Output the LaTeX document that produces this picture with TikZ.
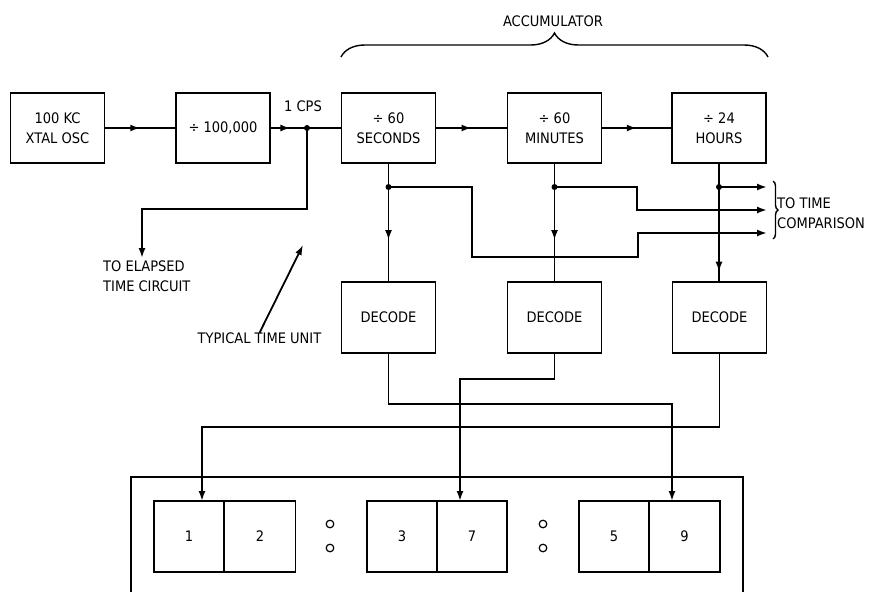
\documentclass[tikz,border=0pt]{standalone}
\usepackage{fontspec}
\setmainfont{DejaVu Sans Condensed}
\usetikzlibrary{arrows.meta,decorations.markings,decorations.pathreplacing,calc}
\begin{document}
\begin{tikzpicture}[x=1pt,y=-1pt,
  font=\fontsize{14.5}{20}\selectfont,
  wire/.style={line width=1.8pt},
  tip/.style={-{Latex[length=10pt,width=7pt]}},
  box/.style={draw,line width=1.8pt,minimum width=94pt,minimum height=70pt,align=center,inner sep=0pt},
  digit/.style={draw,line width=1.8pt,minimum width=71pt,minimum height=71pt,inner sep=0pt},
  marr/.style={postaction={decorate,decoration={markings,mark=at position #1 with {\arrow{Latex[length=10pt,width=7pt]}}}}},
  jdot/.style={circle,fill,inner sep=0pt,minimum size=6pt},
  lbl/.style={inner sep=0pt,align=left}
]
\useasboundingbox (0,0) rectangle (876,592);
% top row
\node[box] (osc) at (57.5,128) {100 KC\\XTAL OSC};
\node[box] (div) at (223,128) {÷ 100,000};
\node[box] (sec) at (388.5,128) {÷ 60\\SECONDS};
\node[box] (min) at (554.5,128) {÷ 60\\MINUTES};
\node[box] (hrs) at (719,128) {÷ 24\\HOURS};
% decoders
\node[box,minimum height=71pt] (secD) at (388.5,317.5) {DECODE};
\node[box,minimum height=71pt] (minD) at (554.5,317.5) {DECODE};
\node[box,minimum height=71pt] (hrsD) at (719.5,317.5) {DECODE};
% displays
\node[digit,minimum width=70pt] (d1a) at (189,536.5) {1};
\node[digit] (d1b) at (260,536.5) {2};
\node[digit,minimum width=70pt] (d2a) at (402,536.5) {3};
\node[digit,minimum width=70pt] (d2b) at (472,536.5) {7};
\node[digit,minimum width=70pt] (d3a) at (614,536.5) {5};
\node[digit] (d3b) at (684.5,536.5) {9};
\draw[wire] (131,592) -- (131,477) -- (743,477) -- (743,592);
\foreach \cx in {330,543}{
  \draw[line width=1.2pt] (\cx,524) circle (3.8pt);
  \draw[line width=1.2pt] (\cx,548) circle (3.8pt);
}
% labels
\node (acc) at (553,21) {ACCUMULATOR};
\draw[line width=1.4pt,decorate,decoration={brace,amplitude=24pt}] (341,57) -- (768,57);
\node (cps) at (303,106) {1 CPS};
\node[lbl,anchor=north west] (elt) at (103,261) {TO ELAPSED\\TIME CIRCUIT};
\node[lbl] (ttu) at (259.5,338.5) {TYPICAL TIME UNIT};
\node[lbl,anchor=west] (cmp) at (777,213) {TO TIME\\COMPARISON};
\draw[line width=1.4pt,decorate,decoration={brace,amplitude=5pt}] (773,181) -- (773,239);
% coordinates
\coordinate (j1) at (307,128);
\coordinate (elap) at (142,258);
\coordinate (s1) at (388.5,187);
\coordinate (m1) at (554.5,187);
\coordinate (h1) at (719,187);
\coordinate (c1) at (767,187);
\coordinate (c2) at (767,210);
\coordinate (c3) at (767,233);
\coordinate (t1) at (202,501);
\coordinate (t7) at (460,501);
\coordinate (t9) at (672,501);
\coordinate (ttuh) at (303,245);
% main chain
\draw[wire,marr=0.5] (osc.east) -- (div.west);
\draw[wire,marr=0.28] (div.east) -- (sec.west);
\draw[wire,marr=0.5] (sec.east) -- (min.west);
\draw[wire,marr=0.5] (min.east) -- (hrs.west);
\draw[wire,tip] (j1) |- (elap |- 0,209) -- (elap);
\node[jdot] at (j1) {};
% to decoders
\draw[wire,marr=0.65] (sec.south) -- (secD.north);
\draw[wire,marr=0.65] (min.south) -- (minD.north);
\draw[wire,marr=0.92] (hrs.south) -- (hrs.south |- hrsD.north);
% to comparison
\draw[wire,tip] (h1) -- (c1);
\draw[wire,tip] (m1) -- (637,187) -- (637,210) -- (c2);
\draw[wire,tip] (s1) -- (472,187) -- (472,257) -- (638,257) -- (638,233) -- (c3);
\node[jdot] at (s1) {};
\node[jdot] at (m1) {};
\node[jdot] at (h1) {};
% decoders to displays
\draw[wire,tip] (secD.south) -- ++(0,50) -| (t9);
\draw[wire,tip] (minD.south) -- ++(0,25) -| (t7);
\draw[wire,tip] (hrsD.south) -- ++(0,73) -| (t1);
% typical time unit pointer
\draw[wire,tip] (ttu.north) -- (ttuh);
\end{tikzpicture}
\end{document}
